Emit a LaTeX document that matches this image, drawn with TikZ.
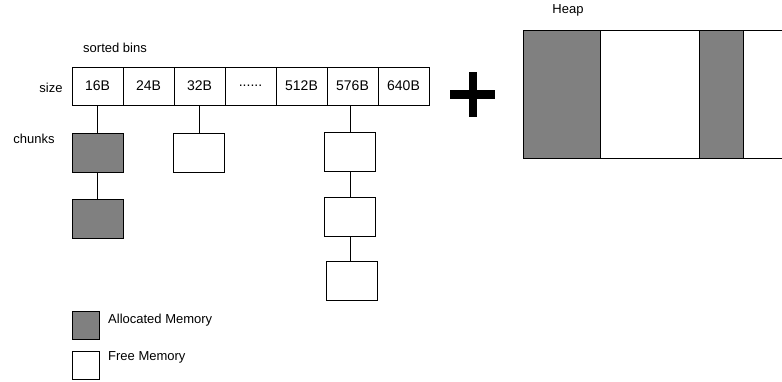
\documentclass[tikz,border=0pt]{standalone}
\usepackage{fontspec}
\setmainfont{Liberation Sans}
\definecolor{allocgray}{RGB}{128,128,128}
\begin{document}
\begin{tikzpicture}[x=1pt,y=-1pt,
  lbl/.style={inner sep=0pt,font=\fontsize{13}{15}\selectfont},
  bin/.style={draw,line width=1pt,minimum width=51pt,minimum height=38pt,inner sep=0pt,font=\fontsize{14}{16}\selectfont},
  chunkfree/.style={draw,line width=1pt,fill=white,minimum width=51pt,minimum height=39pt,inner sep=0pt},
  chunkalloc/.style={chunkfree,fill=allocgray},
  legbox/.style={draw,line width=1pt,minimum width=27pt,minimum height=28pt,inner sep=0pt},
  link/.style={line width=1pt}]
\clip (0,0) rectangle (782,381);
\useasboundingbox (0,0) rectangle (782,381);
% labels
\node[lbl] (sorted) at (115,48) {sorted bins};
\node[lbl] (size) at (51,88) {size};
\node[lbl] (chunkslbl) at (34,139) {chunks};
% bins
\node[bin] (b1) at (97.5,86) {16B};
\node[bin] (b2) at (148.5,86) {24B};
\node[bin] (b3) at (199.5,86) {32B};
\node[bin] (b4) at (250.5,86) {......};
\node[bin] (b5) at (301.5,86) {512B};
\node[bin] (b6) at (352.5,86) {576B};
\node[bin] (b7) at (403.5,86) {640B};
% chunks
\node[chunkalloc] (c1) at (97.5,152.5) {};
\node[chunkalloc] (c2) at (97.5,218.5) {};
\node[chunkfree] (c3) at (199,153) {};
\node[chunkfree] (c4) at (350,152) {};
\node[chunkfree] (c5) at (350,217) {};
\node[chunkfree] (c6) at (352,280.5) {};
% connectors
\draw[link] (b1.south) -- (c1.north);
\draw[link] (c1.south) -- (c2.north);
\draw[link] (c3.north |- b3.south) -- (c3.north);
\draw[link] (c4.north |- b6.south) -- (c4.north);
\draw[link] (c4.south) -- (c5.north);
\draw[link] (c5.south) -- (c5.south |- c6.north);
% plus sign
\fill (469,72) rectangle (477,117);
\fill (450,90) rectangle (495,99);
\node[inner sep=0pt] (plus) at (473,95) {};
% heap
\node[lbl] (heaplbl) at (568,10) {Heap};
\fill[allocgray] (523,30) rectangle (600,158);
\fill[allocgray] (699,30) rectangle (743,158);
\draw[line width=1pt] (800,30) -- (523,30) -- (523,158) -- (800,158);
\draw[line width=1pt] (600,30) -- (600,158);
\draw[line width=1pt] (699,30) -- (699,158);
\draw[line width=1pt] (743,30) -- (743,158);
% legend
\node[legbox,fill=allocgray] (legA) at (85.5,325) {};
\node[lbl,anchor=west] (legAtxt) at (108,320) {Allocated Memory};
\node[legbox,fill=white] (legF) at (85.5,365.5) {};
\node[lbl,anchor=west] (legFtxt) at (108,357) {Free Memory};
\end{tikzpicture}
\end{document}
